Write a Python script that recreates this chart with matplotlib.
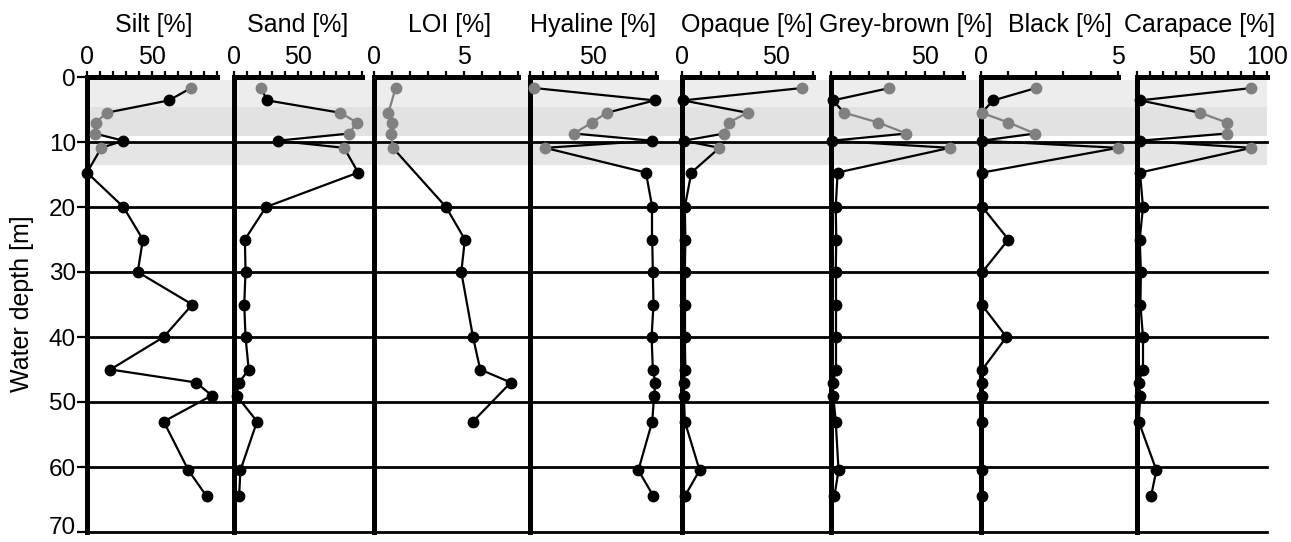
import numpy as np
import matplotlib
matplotlib.use("Agg")
import matplotlib.pyplot as plt
import matplotlib.transforms as mtransforms
from matplotlib.ticker import FixedLocator, FuncFormatter

plt.rcParams["font.family"] = ["Liberation Sans", "DejaVu Sans"]

# Sample depths (m) and which sample set each belongs to ("S" grey, "C" black)
depth_m = [1.7, 3.6, 5.5, 7.0, 8.7, 9.8, 10.9, 14.7, 20, 25, 30, 35, 40, 45, 47, 49, 53, 60.5, 64.5]
sample_set = ["S", "C", "S", "S", "S", "C", "S", "C",
              "C", "C", "C", "C", "C", "C", "C", "C", "C", "C", "C"]

nan = np.nan
silt = [80, 63, 15, 7, 6, 28, 11, 0, 28, 43, 39, 81, 59, 18, 84, 96, 59, 78, 92]
sand = [21, 26, 83, 96, 90, 34, 86, 97, 25, 8.5, 9, 8, 9, 11.5, 4, 2, 18, 5, 4]
loi = [1.2, nan, 0.8, 1.0, 0.95, nan, 1.05, nan, 4.0, 5.05, 4.85, nan, 5.5, 5.9, 7.6, nan, 5.5, nan, nan]
hyaline = [3.5, 99, 61, 49, 35, 97, 12, 92, 97, 97, 97.5, 98, 96.5, 97.5, 99.5, 98.5, 97, 86, 98]
opaque = [64, 0.5, 35, 25, 22.5, 1, 20, 5, 1.5, 1.8, 1.5, 1.5, 1.5, 1.8, 1, 1, 1.5, 9.4, 1.5]
grey_brown = [31, 1, 7, 25, 40, 0.5, 63, 3.5, 2.5, 2.8, 2.5, 2.5, 2.5, 2.5, 1.2, 1.2, 2.5, 4, 1.8]
black = [2.0, 0.45, 0.02, 1.0, 1.97, 0.02, 5.0, 0.05, 0.05, 1.0, 0.05, 0.02, 0.93, 0.05,
         0.05, 0.05, 0.05, 0.05, 0.05]
carapace = [88, 2.3, 48.5, 69, 69, 2, 88, 2.3, 4.6, 2.1, 3, 2.6, 4.6, 4.6, 1.3, 2.6, 1.3, 14.9, 10.8]

titles = ["Silt [%]", "Sand [%]", "LOI [%]", "Hyaline [%]", "Opaque [%]",
          "Grey-brown [%]", "Black [%]", "Carapace [%]"]
series = [silt, sand, loi, hyaline, opaque, grey_brown, black, carapace]
x_max = [100, 100, 8, 100, 70, 70, 5, 100]
x_step = [10, 10, 1, 10, 10, 10, 1, 10]
x_labels = [[0, 50], [0, 50], [0, 5], [50], [0, 50], [50], [0, 5], [50, 100]]
depth_ticks = [0, 10, 20, 30, 40, 50, 60, 70]

# layout in pixels
W, H = 1291, 542
top_px, bot_px = 77, 532
panel_px = [(87, 217), (234, 362), (374, 518), (530, 656),
            (682, 813), (831, 963), (981, 1118), (1137, 1267)]
title_cx = [154, 298, 450, 593, 747, 906, 1060, 1200]

fig = plt.figure(figsize=(W / 100, H / 100), dpi=100)
fig.patch.set_facecolor("white")

y0 = (H - bot_px) / H
hh = (bot_px - top_px) / H

# background: shaded surface band and horizontal depth lines across all panels
bg = fig.add_axes([87 / W, y0, (1267 - 87) / W, hh], zorder=0)
bg.set_xlim(0, 1)
bg.set_ylim(70, 0)
bg.axis("off")
bg.axhspan(0.4, 4.6, color="#ededed", lw=0)
bg.axhspan(4.6, 9.1, color="#e2e2e2", lw=0)
bg.axhspan(10.3, 13.6, color="#e5e5e5", lw=0)
for yv in depth_ticks[1:]:
    bg.axhline(yv, color="black", lw=2.0, clip_on=False)

GREY = "#808080"

for i, (vals, title) in enumerate(zip(series, titles)):
    l, r = panel_px[i]
    ax = fig.add_axes([l / W, y0, (r - l) / W, hh], zorder=2)
    ax.patch.set_alpha(0)
    ax.set_xlim(0, x_max[i])
    ax.set_ylim(70, 0)

    v = np.array(vals, dtype=float)
    d = np.array(depth_m, dtype=float)
    g = np.array(sample_set)
    ok = ~np.isnan(v)
    v, d, g = v[ok], d[ok], g[ok]

    for k in range(len(v) - 1):
        both_s = g[k] == "S" and g[k + 1] == "S"
        ax.plot(v[k:k + 2], d[k:k + 2], color=GREY if both_s else "black",
                lw=1.6, zorder=3, clip_on=False, solid_capstyle="round")
    ms = g == "S"
    ax.plot(v[ms], d[ms], "o", color=GREY, ms=7.5, mec=GREY, zorder=4, clip_on=False)
    mc = g == "C"
    ax.plot(v[mc], d[mc], "o", color="black", ms=7.5, zorder=5, clip_on=False)

    for s in ("right", "bottom"):
        ax.spines[s].set_visible(False)
    ax.spines["left"].set_linewidth(3.6)
    ax.spines["top"].set_linewidth(3.6)

    ax.xaxis.set_ticks_position("top")
    ax.xaxis.set_major_locator(FixedLocator(np.arange(0, x_max[i] + x_step[i] / 2, x_step[i])))
    labs = x_labels[i]
    ax.xaxis.set_major_formatter(FuncFormatter(
        lambda val, pos, labs=labs: f"{val:g}" if any(abs(val - t) < 1e-9 for t in labs) else ""))
    ax.tick_params(axis="x", direction="out", length=4, width=1.6, pad=2,
                   labelsize=18, colors="black")

    if i == 0:
        ax.set_yticks(depth_ticks)
        ax.tick_params(axis="y", direction="out", length=7, width=1.6, pad=1, labelsize=17.5)
        fig.canvas.draw()
        # nudge the bottom depth label so it stays inside the figure
        last = ax.get_yticklabels()[-1]
        last.set_transform(last.get_transform() +
                           mtransforms.ScaledTranslation(0, 6 / 100, fig.dpi_scale_trans))
    else:
        ax.set_yticks([])

    fig.text(title_cx[i] / W, 1 - 25 / H, title, ha="center", va="center", fontsize=18)

fig.text(22 / W, 1 - 304 / H, "Water depth [m]", rotation=90, ha="center", va="center",
         fontsize=18)

fig.savefig("out.png", dpi=100, facecolor="white")
